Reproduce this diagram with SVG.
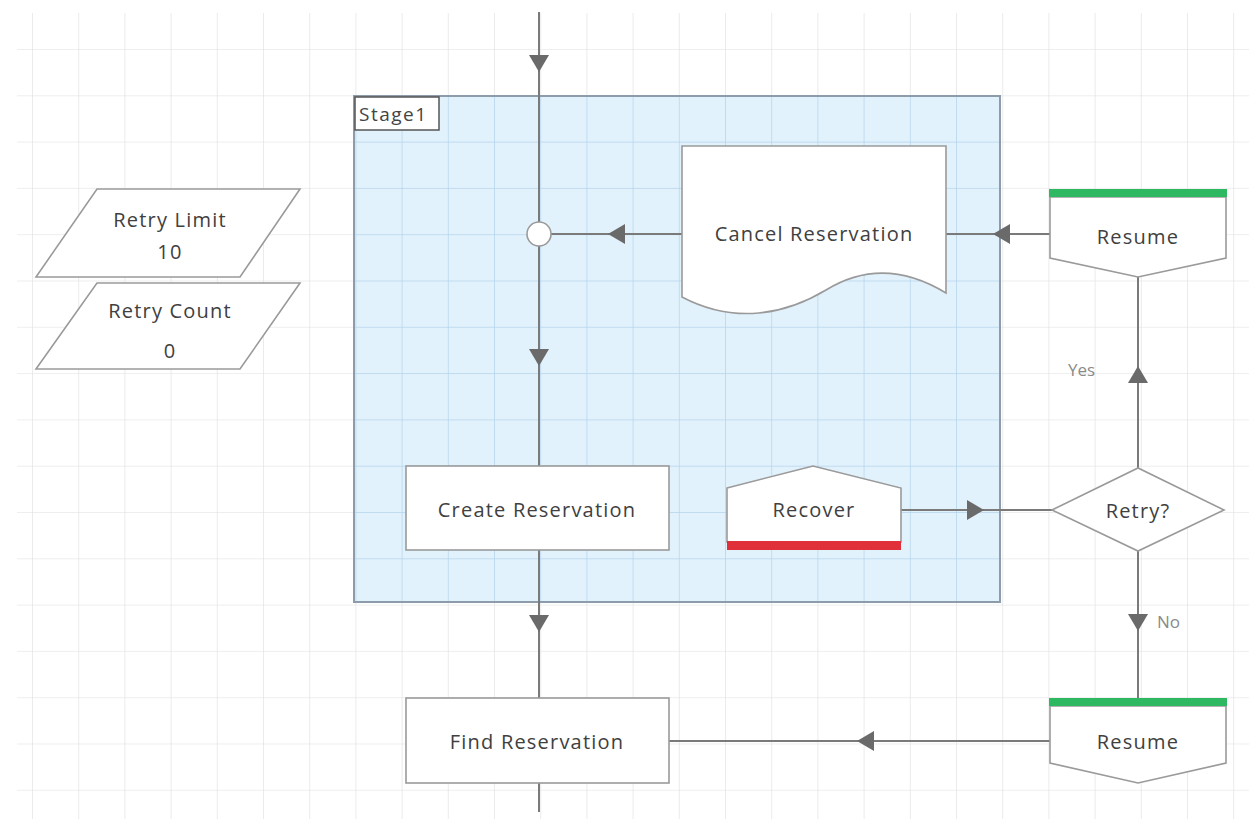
<svg xmlns="http://www.w3.org/2000/svg" width="1249" height="819" viewBox="0 0 1249 819">
<style>
.lbl{font-family:"Open Sans","Noto Sans",sans-serif;font-size:20px;fill:#404040;letter-spacing:1.2px;text-anchor:middle;dominant-baseline:central}
.small{font-family:"Open Sans","Noto Sans",sans-serif;font-size:17px;fill:#8a8a8a;dominant-baseline:central}
.shape{fill:#ffffff;stroke:#9a9a9a;stroke-width:1.6}
.conn{stroke:#7a7a7a;stroke-width:2;fill:none}
.ah{fill:#6a6a6a}
</style>
<defs>
<pattern id="grid" patternUnits="userSpaceOnUse" x="32" y="49" width="46.2" height="46.3">
<path d="M0,0 V46.3 M0,0 H46.2" stroke="#dedede" stroke-width="1.2" fill="none"/>
</pattern>
<pattern id="grid2" patternUnits="userSpaceOnUse" x="32" y="49" width="46.2" height="46.3">
<path d="M0,0 V46.3 M0,0 H46.2" stroke="#b5d4ec" stroke-width="1.5" fill="none"/>
</pattern>
<path id="ah" d="M0,0 L-17,-10 L-17,10 Z"/>
</defs>
<rect width="1249" height="819" fill="#ffffff"/>
<rect x="17" y="13" width="1232" height="806" fill="url(#grid)"/>

<g id="stage1">
<rect x="354" y="96" width="646" height="506" fill="#e2f2fc" />
<rect x="354" y="96" width="646" height="506" fill="url(#grid2)" stroke="#8d9cab" stroke-width="2"/>
<rect x="355" y="97" width="84" height="33" fill="#ffffff" stroke="#555" stroke-width="1.5"/>
<text x="359" y="114" font-family="'Open Sans','Noto Sans',sans-serif" font-size="19" letter-spacing="1.5" fill="#444" dominant-baseline="central">Stage1</text>
</g>

<g id="data-retry-limit">
<polygon class="shape" points="97,189 300,189 240,277 36,277"/>
<text class="lbl" x="170" y="219">Retry Limit</text>
<text class="lbl" x="170" y="251">10</text>
</g>
<g id="data-retry-count">
<polygon class="shape" points="97,283 300,283 240,369 36,369"/>
<text class="lbl" x="170" y="310">Retry Count</text>
<text class="lbl" x="170" y="350">0</text>
</g>

<g id="connectors">
<line class="conn" x1="539" y1="12" x2="539" y2="466"/>
<line class="conn" x1="539" y1="550" x2="539" y2="698"/>
<line class="conn" x1="539" y1="783" x2="539" y2="812"/>
<line class="conn" x1="682" y1="234" x2="551" y2="234"/>
<line class="conn" x1="1050" y1="234" x2="946" y2="234"/>
<line class="conn" x1="901" y1="510" x2="1052" y2="510"/>
<line class="conn" x1="1138" y1="468" x2="1138" y2="277"/>
<line class="conn" x1="1138" y1="551" x2="1138" y2="699"/>
<line class="conn" x1="1050" y1="741" x2="669" y2="741"/>
<use href="#ah" class="ah" transform="translate(539,72) rotate(90)"/>
<use href="#ah" class="ah" transform="translate(539,366) rotate(90)"/>
<use href="#ah" class="ah" transform="translate(539,632) rotate(90)"/>
<use href="#ah" class="ah" transform="translate(608,234) rotate(180)"/>
<use href="#ah" class="ah" transform="translate(993,234) rotate(180)"/>
<use href="#ah" class="ah" transform="translate(984,510)"/>
<use href="#ah" class="ah" transform="translate(1138,366) rotate(-90)"/>
<use href="#ah" class="ah" transform="translate(1138,631) rotate(90)"/>
<use href="#ah" class="ah" transform="translate(857,741) rotate(180)"/>
<text class="small" x="1068" y="369">Yes</text>
<text class="small" x="1157" y="621">No</text>
</g>

<g id="junction">
<circle cx="539" cy="234" r="12" fill="#ffffff" stroke="#9a9a9a" stroke-width="1.6"/>
</g>

<g id="cancel-reservation">
<path class="shape" d="M682,146 H946 V293 C905,268 865,266 826,290 C786,314 735,325 682,297 Z"/>
<text class="lbl" x="814" y="233">Cancel Reservation</text>
</g>

<g id="resume-top">
<polygon class="shape" points="1050,197 1226,197 1226,258 1138,277 1050,258"/>
<rect x="1049" y="189" width="178" height="8" fill="#2fb862"/>
<text class="lbl" x="1138" y="236">Resume</text>
</g>

<g id="retry">
<polygon class="shape" points="1052,510 1138,468 1224,510 1138,551"/>
<text class="lbl" x="1138" y="510">Retry?</text>
</g>

<g id="recover">
<polygon class="shape" points="727,488 813,466 901,488 901,542 727,542"/>
<rect x="727" y="541" width="174" height="9" fill="#e0303a"/>
<text class="lbl" x="814" y="509">Recover</text>
</g>

<g id="create-reservation">
<rect class="shape" x="406" y="466" width="263" height="84"/>
<text class="lbl" x="537" y="509">Create Reservation</text>
</g>

<g id="find-reservation">
<rect class="shape" x="406" y="698" width="263" height="85"/>
<text class="lbl" x="537" y="741">Find Reservation</text>
</g>

<g id="resume-bottom">
<polygon class="shape" points="1050,706 1226,706 1226,763 1138,783 1050,763"/>
<rect x="1049" y="698" width="178" height="8" fill="#2fb862"/>
<text class="lbl" x="1138" y="741">Resume</text>
</g>
</svg>
